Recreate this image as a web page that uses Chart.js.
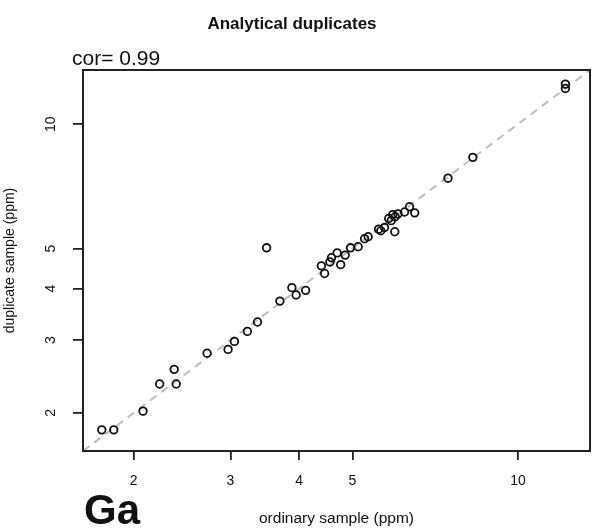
<!DOCTYPE html>
<html>
<head>
<meta charset="utf-8">
<script src="https://cdn.jsdelivr.net/npm/chart.js@4.4.1/dist/chart.umd.min.js"></script>
<style>
  html, body { margin: 0; padding: 0; background: #fff; }
  #wrap { width: 603px; height: 531px; }
</style>
</head>
<body>
<div id="wrap"><canvas id="dupChart" width="603" height="531"></canvas></div>
<script>
// --- data (ppm) ---
const ordinarySample = [1.75, 1.84, 2.08, 2.23, 2.39, 2.37, 2.72, 2.97, 3.05, 3.22, 3.36, 3.49, 3.69, 3.88, 3.95,
    4.11, 4.39, 4.45, 4.55, 4.58, 4.69, 4.76, 4.85, 4.96, 5.12, 5.26, 5.34, 5.58, 5.63, 5.72, 5.82, 5.88,
    5.92, 5.98, 6.05, 5.97, 6.22, 6.35, 6.49, 7.46, 8.28, 12.2, 12.2];
const duplicateSample = [1.82, 1.82, 2.02, 2.35, 2.35, 2.55, 2.79, 2.85, 2.98, 3.15, 3.32, 5.02, 3.73, 4.02, 3.86,
    3.96, 4.54, 4.35, 4.64, 4.75, 4.88, 4.57, 4.82, 5.02, 5.05, 5.28, 5.34, 5.57, 5.52, 5.62, 5.91, 5.84,
    6.04, 5.97, 6.06, 5.49, 6.13, 6.31, 6.10, 7.40, 8.31, 12.5, 12.2];
const xTicks = [2, 3, 4, 5, 10];
const yTicks = [2, 3, 4, 5, 10];
const titleText = 'Analytical duplicates';
const corText = 'cor= 0.99';
const elementText = 'Ga';
const xLabel = 'ordinary sample (ppm)';
const yLabel = 'duplicate sample (ppm)';

// R-style limits: shared range of both series, padded 4% in log space
const allVals = ordinarySample.concat(duplicateSample);
const lo = Math.log10(Math.min(...allVals));
const hi = Math.log10(Math.max(...allVals));
const pad = (hi - lo) * 0.04;
const axisMin = Math.pow(10, lo - pad);
const axisMax = Math.pow(10, hi + pad);

const FONT = "'Liberation Sans', Arial, Helvetica, sans-serif";
const INK = '#111';

const points = ordinarySample.map((x, i) => ({ x: x, y: duplicateSample[i] }));

// --- texts, box and rotated y labels ---
const decorations = {
    id: 'decorations',
    afterDatasetsDraw: (chart) => {
        const { ctx, chartArea } = chart;
        ctx.save();
        ctx.strokeStyle = '#222';
        ctx.lineWidth = 2;
        ctx.strokeRect(chartArea.left, chartArea.top, chartArea.right - chartArea.left, chartArea.bottom - chartArea.top);
        ctx.restore();
    },
    afterDraw: (chart) => {
        const { ctx } = chart;
        const yScale = chart.scales.y;
        ctx.save();
        ctx.fillStyle = INK;

        // y tick labels, rotated like R's las=0
        ctx.font = '14px ' + FONT;
        ctx.textAlign = 'center';
        ctx.textBaseline = 'middle';
        yTicks.forEach((v) => {
            ctx.save();
            ctx.translate(51, yScale.getPixelForValue(v));
            ctx.rotate(-Math.PI / 2);
            ctx.fillText(String(v), 0, 0);
            ctx.restore();
        });

        // y axis label
        ctx.save();
        ctx.font = '14px ' + FONT;
        ctx.translate(10, (chart.chartArea.top + chart.chartArea.bottom) / 2);
        ctx.rotate(-Math.PI / 2);
        ctx.fillText(yLabel, 0, 0);
        ctx.restore();

        // x axis label
        ctx.textBaseline = 'alphabetic';
        ctx.font = '15.5px ' + FONT;
        ctx.fillText(xLabel, (chart.chartArea.left + chart.chartArea.right) / 2, 523);

        // title
        ctx.font = 'bold 17px ' + FONT;
        ctx.fillText(titleText, 292, 29);

        // correlation
        ctx.textAlign = 'left';
        ctx.font = '21px ' + FONT;
        ctx.fillText(corText, 72, 65);

        // element
        ctx.font = 'bold 42px ' + FONT;
        ctx.fillText(elementText, 84, 524);

        ctx.restore();
    }
};

const fixTicks = (values) => (scale) => {
    scale.ticks = values.map((v) => ({ value: v }));
};

new Chart(document.getElementById('dupChart'), {
    type: 'scatter',
    data: {
        datasets: [{
            label: 'samples',
            data: points,
            pointStyle: 'circle',
            pointRadius: 3.8,
            pointHoverRadius: 3.8,
            pointBorderWidth: 1.8,
            pointBorderColor: INK,
            pointBackgroundColor: 'rgba(0,0,0,0)',
            order: 1
        }, {
            label: '1:1',
            type: 'line',
            data: [{ x: axisMin, y: axisMin }, { x: axisMax, y: axisMax }],
            borderColor: '#bdbdbd',
            borderWidth: 2,
            borderDash: [8, 6],
            pointRadius: 0,
            fill: false,
            order: 2
        }]
    },
    plugins: [decorations],
    options: {
        responsive: false,
        animation: false,
        events: [],
        layout: { padding: { left: 0, top: 70, right: 13, bottom: 0 } },
        plugins: {
            legend: { display: false },
            tooltip: { enabled: false },
            title: { display: false }
        },
        scales: {
            x: {
                type: 'logarithmic',
                position: 'bottom',
                min: axisMin,
                max: axisMax,
                afterBuildTicks: fixTicks(xTicks),
                afterFit: (scale) => { scale.height = 80; },
                grid: { drawOnChartArea: false, drawTicks: true, tickLength: 9, color: '#222', lineWidth: 1.8 },
                border: { display: false },
                ticks: {
                    autoSkip: false,
                    maxRotation: 0,
                    padding: 13,
                    color: INK,
                    font: { family: FONT, size: 14 },
                    callback: (v) => String(v)
                }
            },
            y: {
                type: 'logarithmic',
                position: 'left',
                min: axisMin,
                max: axisMax,
                afterBuildTicks: fixTicks(yTicks),
                afterFit: (scale) => { scale.width = 83; },
                grid: { drawOnChartArea: false, drawTicks: true, tickLength: 10, color: '#222', lineWidth: 1.8 },
                border: { display: false },
                ticks: { display: false }
            }
        }
    }
});
</script>
</body>
</html>
